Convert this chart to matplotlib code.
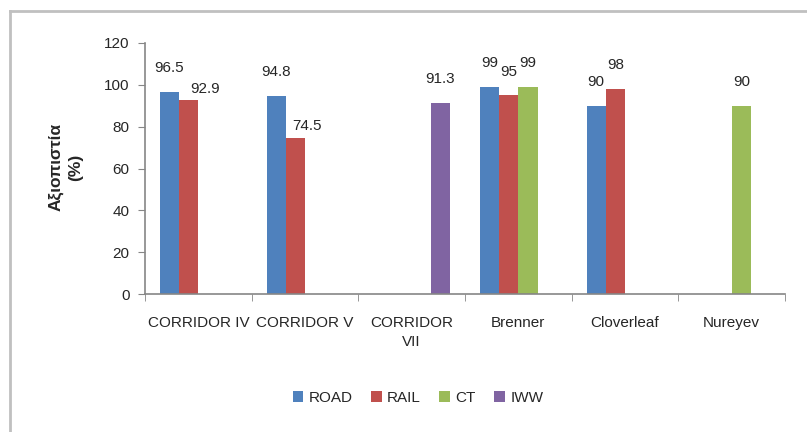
import matplotlib
matplotlib.use("Agg")
import matplotlib.pyplot as plt
from matplotlib.lines import Line2D
from matplotlib.patches import Patch
import numpy as np

plt.rcParams['font.family'] = ['Liberation Sans', 'DejaVu Sans']

# Data
categories = ["CORRIDOR IV", "CORRIDOR V", "CORRIDOR\nVII", "Brenner", "Cloverleaf", "Nureyev"]
series_names = ["ROAD", "RAIL", "CT", "IWW"]
road = [96.5, 94.8, None, 99, 90, None]
rail = [92.9, 74.5, None, 95, 98, None]
ct = [None, None, None, 99, None, 90]
iww = [None, None, 91.3, None, None, None]
y_ticks = [0, 20, 40, 60, 80, 100, 120]
y_label = "Αξιοπιστία\n(%)"

series_values = [road, rail, ct, iww]
colors = ["#4F81BD", "#C0504D", "#9BBB59", "#8064A2"]

# Hand-placed data labels (points offset from default position): (series, category) -> (dx, dy)
label_nudges = {(1, 0): (12, -9), (1, 1): (8, -8)}

fig = plt.figure(figsize=(8.07, 4.32), dpi=100)
W, H = 807, 432

# Chart-area frame (top and left edges)
fig.add_artist(Line2D([10 / W, 10 / W], [0, 1 - 11 / H], color="#C0C0C0", lw=2))
fig.add_artist(Line2D([10 / W, 1], [1 - 11 / H, 1 - 11 / H], color="#C0C0C0", lw=2))

ax = fig.add_axes([145 / W, 1 - 294 / H, (785 - 145) / W, (294 - 43) / H])

n = len(categories)
x = np.arange(n)
bw = 0.18
offsets = (np.arange(len(series_names)) - 1.5) * bw

for si, (name, vals, col) in enumerate(zip(series_names, series_values, colors)):
    for ci, v in enumerate(vals):
        if v is None:
            continue
        ax.bar(x[ci] + offsets[si], v, width=bw, color=col, edgecolor="none", zorder=2)
        dx, dy = label_nudges.get((si, ci), (0, 0))
        ax.annotate(f"{v:g}", (x[ci] + offsets[si], v), xytext=(dx, 12 + dy),
                    textcoords="offset points", ha="center", va="bottom",
                    fontsize=11, color="#262626")

ax.set_xlim(-0.5, n - 0.5)
ax.set_ylim(0, 120)
ax.set_yticks(y_ticks)
ax.set_yticklabels([str(t) for t in y_ticks], fontsize=11, color="#262626")
ax.set_xticks(x)
ax.set_xticklabels(categories, fontsize=11, color="#262626", linespacing=1.45)
ax.set_xticks(np.arange(n + 1) - 0.5, minor=True)
ax.tick_params(axis="x", which="major", length=0, pad=16)
ax.tick_params(axis="x", which="minor", length=5, color="#868686", direction="out")
ax.tick_params(axis="y", length=5, color="#868686", direction="out", pad=6)

for s in ["top", "right"]:
    ax.spines[s].set_visible(False)
for s in ["left", "bottom"]:
    ax.spines[s].set_color("#868686")
    ax.spines[s].set_linewidth(1.2)

fig.text(66 / W, 1 - 167 / H, y_label, rotation=90, ha="center", va="center",
         multialignment="center", fontsize=12.5, fontweight="bold", linespacing=1.38,
         color="#262626")

handles = [Patch(facecolor=c, edgecolor="none", label=nm) for c, nm in zip(colors, series_names)]
fig.legend(handles=handles, loc="center", bbox_to_anchor=(418 / W, 1 - 398 / H),
           ncol=4, frameon=False, fontsize=11, handlelength=0.7, handleheight=0.7,
           handletextpad=0.35, columnspacing=1.2, labelcolor="#262626")

fig.savefig("out.png", dpi=100)
